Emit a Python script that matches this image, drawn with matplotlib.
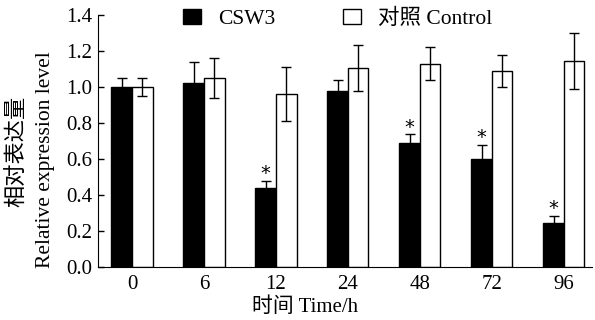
import numpy as np
import matplotlib
matplotlib.use('Agg')
import matplotlib.pyplot as plt
from matplotlib.patches import Patch

plt.rcParams['font.family'] = ['Liberation Serif', 'Noto Sans CJK SC']
plt.rcParams['font.size'] = 15

# dados
horas = ['0', '6', '12', '24', '48', '72', '96']
csw3 = [1.00, 1.02, 0.44, 0.98, 0.69, 0.60, 0.245]
csw3_err = [0.05, 0.12, 0.04, 0.06, 0.05, 0.08, 0.04]
controle = [1.00, 1.05, 0.96, 1.105, 1.13, 1.09, 1.145]
controle_err = [0.05, 0.11, 0.15, 0.13, 0.09, 0.09, 0.155]
signif = [False, False, True, False, True, True, True]

x = np.arange(len(horas))
w = 0.285

fig = plt.figure(figsize=(5.95, 3.2), dpi=100, facecolor='white')
ax = fig.add_axes([0.165, 0.166, 0.83, 0.787])

ekw = dict(elinewidth=1, capthick=1, ecolor='black')
ax.bar(x - w/2, csw3, w, color='black', edgecolor='black', linewidth=1,
       yerr=csw3_err, capsize=3.5, error_kw=ekw)
ax.bar(x + w/2, controle, w, color='white', edgecolor='black', linewidth=1,
       yerr=controle_err, capsize=3.5, error_kw=ekw)

# asteriscos de significancia
for i in range(len(horas)):
    if signif[i]:
        ax.annotate('*', (x[i] - w/2, csw3[i] + csw3_err[i]), xytext=(0, -2),
                    textcoords='offset points', ha='center', va='bottom',
                    fontsize=14, family='DejaVu Sans')

ax.set_xlim(-0.47, 6.39)
ax.set_ylim(0, 1.4)
ax.set_yticks(np.arange(0, 1.41, 0.2))
ax.set_yticklabels(['%.1f' % v for v in np.arange(0, 1.41, 0.2)])
ax.set_xticks(x)
ax.set_xticklabels(horas)
ax.tick_params(axis='y', direction='in', length=4, width=1, pad=4)
ax.tick_params(axis='x', length=0, pad=6)
ax.spines['top'].set_visible(False)
ax.spines['right'].set_visible(False)

# rotulos dos eixos
fig.text(305/595, 1 - 307/320, '时间 Time/h', ha='center', va='center', fontsize=15)
fig.text(18/595, 1 - 151/320, '相对表达量', rotation=90, ha='center', va='center', fontsize=16)
fig.text(46/595, 1 - 160/320, 'Relative expression level', rotation=90,
         ha='center', va='center', fontsize=15.5)

handles = [Patch(facecolor='black', edgecolor='black', label='CSW3'),
           Patch(facecolor='white', edgecolor='black', label='对照 Control')]
ax.legend(handles=handles, ncol=2, frameon=False, loc='upper center',
          bbox_to_anchor=(0.485, 1.06), handlelength=0.85, handleheight=0.75,
          handletextpad=0.8, columnspacing=3.1, borderaxespad=0, fontsize=15.5)

plt.savefig('out.png', dpi=100)
